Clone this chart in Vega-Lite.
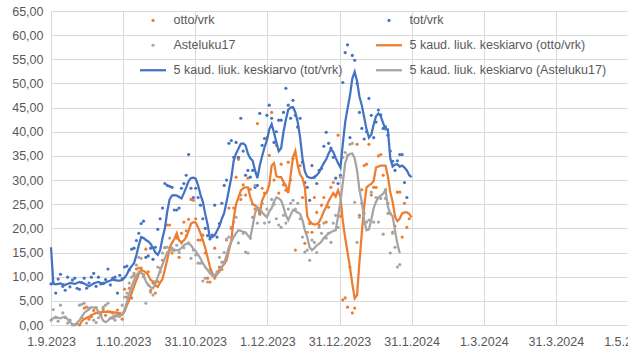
{
"$schema":"https://vega.github.io/schema/vega-lite/v6.json",
"width":577,"height":314,"autosize":"none",
"padding":{"left":51,"top":11,"right":0,"bottom":35},
"background":"white",
"config":{"view":{"stroke":null},"font":"Liberation Sans"},
"data":{"values":[
{"date":"2023-09-01","tot":8.5,"aste":1.0,"ma_tot":16.1,"ma_aste":1.0},
{"date":"2023-09-02","tot":8.6,"aste":3.2,"ma_tot":8.5,"ma_aste":1.4},
{"date":"2023-09-03","tot":6.6,"aste":1.5,"ma_tot":8.4,"ma_aste":1.7},
{"date":"2023-09-04","tot":9.5,"aste":0.8,"ma_tot":8.5,"ma_aste":1.5},
{"date":"2023-09-05","tot":10.5,"aste":4.1,"ma_tot":8.6,"ma_aste":1.4},
{"date":"2023-09-06","tot":8.0,"aste":2.5,"ma_tot":8.4,"ma_aste":1.6},
{"date":"2023-09-07","tot":7.2,"aste":1.5,"ma_tot":8.3,"ma_aste":1.7},
{"date":"2023-09-08","tot":9.9,"aste":0.4,"ma_tot":8.5,"ma_aste":1.2},
{"date":"2023-09-09","tot":7.9,"aste":1.0,"ma_tot":8.7,"ma_aste":0.6},
{"date":"2023-09-10","tot":9.3,"aste":0.0,"ma_tot":8.6,"ma_aste":0.2},
{"date":"2023-09-11","tot":9.7,"aste":0.0,"ma_tot":8.5,"ma_aste":0.0},
{"date":"2023-09-12","tot":7.6,"aste":0.2,"ma_tot":8.7,"ma_aste":0.5},
{"date":"2023-09-13","tot":7.4,"otto":0.0,"aste":4.1,"ma_tot":8.9,"ma_otto":0.0,"ma_aste":1.0},
{"date":"2023-09-14","tot":8.8,"otto":1.5,"aste":4.3,"ma_tot":8.7,"ma_otto":0.8,"ma_aste":1.7},
{"date":"2023-09-15","tot":9.7,"otto":3.5,"aste":4.5,"ma_tot":8.6,"ma_otto":1.2,"ma_aste":2.5},
{"date":"2023-09-16","tot":7.6,"otto":3.7,"aste":0.4,"ma_tot":8.3,"ma_otto":1.5,"ma_aste":2.9},
{"date":"2023-09-17","tot":8.7,"otto":1.2,"aste":3.5,"ma_tot":8.0,"ma_otto":1.7,"ma_aste":3.2},
{"date":"2023-09-18","tot":9.9,"otto":1.7,"aste":2.0,"ma_tot":8.3,"ma_otto":2.0,"ma_aste":3.7},
{"date":"2023-09-19","tot":10.7,"otto":3.0,"aste":1.0,"ma_tot":8.6,"ma_otto":2.3,"ma_aste":3.6},
{"date":"2023-09-20","tot":8.0,"otto":3.6,"aste":0.5,"ma_tot":8.8,"ma_otto":2.5,"ma_aste":3.5},
{"date":"2023-09-21","tot":9.9,"otto":2.5,"aste":1.5,"ma_tot":8.9,"ma_otto":2.6,"ma_aste":2.8},
{"date":"2023-09-22","tot":8.5,"otto":2.0,"aste":2.5,"ma_tot":8.7,"ma_otto":2.6,"ma_aste":1.9},
{"date":"2023-09-23","tot":8.7,"otto":3.2,"aste":3.7,"ma_tot":8.5,"ma_otto":2.7,"ma_aste":0.9},
{"date":"2023-09-24","tot":9.4,"otto":2.0,"aste":4.1,"ma_tot":8.8,"ma_otto":2.7,"ma_aste":0.6},
{"date":"2023-09-25","tot":11.6,"otto":2.8,"aste":4.5,"ma_tot":9.0,"ma_otto":2.7,"ma_aste":0.9},
{"date":"2023-09-26","tot":8.3,"otto":2.7,"aste":1.4,"ma_tot":9.2,"ma_otto":2.7,"ma_aste":1.4},
{"date":"2023-09-27","tot":9.7,"otto":2.5,"aste":1.4,"ma_tot":9.4,"ma_otto":2.6,"ma_aste":1.7},
{"date":"2023-09-28","tot":9.9,"otto":1.8,"aste":1.0,"ma_tot":9.3,"ma_otto":2.6,"ma_aste":2.0},
{"date":"2023-09-29","tot":6.6,"otto":3.1,"aste":2.2,"ma_tot":9.2,"ma_otto":2.5,"ma_aste":1.8},
{"date":"2023-09-30","tot":10.3,"otto":2.4,"aste":2.0,"ma_tot":9.2,"ma_otto":2.3,"ma_aste":1.7},
{"date":"2023-10-01","tot":9.6,"otto":1.2,"aste":4.1,"ma_tot":9.3,"ma_otto":2.1,"ma_aste":2.3},
{"date":"2023-10-02","tot":12.0,"otto":7.4,"aste":5.8,"ma_tot":9.8,"ma_otto":2.8,"ma_aste":3.1},
{"date":"2023-10-03","tot":12.2,"otto":5.8,"aste":6.6,"ma_tot":10.5,"ma_otto":4.1,"ma_aste":4.8},
{"date":"2023-10-04","tot":11.4,"otto":7.6,"aste":8.7,"ma_tot":11.5,"ma_otto":5.2,"ma_aste":6.6},
{"date":"2023-10-05","tot":15.7,"otto":5.6,"aste":9.9,"ma_tot":12.2,"ma_otto":6.6,"ma_aste":8.0},
{"date":"2023-10-06","tot":15.9,"otto":10.3,"aste":10.7,"ma_tot":12.8,"ma_otto":8.0,"ma_aste":9.3},
{"date":"2023-10-07","tot":17.5,"otto":11.6,"aste":12.4,"ma_tot":14.5,"ma_otto":9.3,"ma_aste":10.3},
{"date":"2023-10-08","tot":19.0,"otto":11.8,"aste":14.0,"ma_tot":16.5,"ma_otto":10.6,"ma_aste":11.0},
{"date":"2023-10-09","tot":21.0,"otto":11.8,"aste":13.8,"ma_tot":18.2,"ma_otto":11.4,"ma_aste":10.8},
{"date":"2023-10-10","tot":21.5,"otto":10.5,"aste":10.0,"ma_tot":18.0,"ma_otto":11.2,"ma_aste":10.3},
{"date":"2023-10-11","tot":14.0,"otto":15.7,"aste":4.5,"ma_tot":17.6,"ma_otto":10.9,"ma_aste":9.0},
{"date":"2023-10-12","tot":14.3,"otto":11.0,"aste":8.3,"ma_tot":17.3,"ma_otto":10.3,"ma_aste":8.3},
{"date":"2023-10-13","tot":15.9,"otto":7.2,"aste":6.8,"ma_tot":16.8,"ma_otto":9.3,"ma_aste":7.8},
{"date":"2023-10-14","tot":13.6,"otto":8.7,"aste":6.2,"ma_tot":16.0,"ma_otto":9.0,"ma_aste":7.6},
{"date":"2023-10-15","tot":16.1,"otto":6.6,"aste":9.0,"ma_tot":15.0,"ma_otto":8.2,"ma_aste":8.5},
{"date":"2023-10-16","tot":19.8,"otto":9.0,"aste":12.0,"ma_tot":14.5,"ma_otto":7.9,"ma_aste":9.9},
{"date":"2023-10-17","tot":22.0,"otto":11.0,"aste":11.8,"ma_tot":15.5,"ma_otto":8.8,"ma_aste":11.2},
{"date":"2023-10-18","tot":24.2,"otto":13.4,"aste":14.9,"ma_tot":18.0,"ma_otto":9.5,"ma_aste":12.5},
{"date":"2023-10-19","tot":29.3,"otto":16.0,"aste":16.1,"ma_tot":20.0,"ma_otto":11.5,"ma_aste":13.8},
{"date":"2023-10-20","tot":28.9,"otto":20.7,"aste":16.1,"ma_tot":23.5,"ma_otto":13.5,"ma_aste":15.1},
{"date":"2023-10-21","tot":28.7,"otto":20.7,"aste":18.0,"ma_tot":26.0,"ma_otto":16.0,"ma_aste":15.4},
{"date":"2023-10-22","tot":28.5,"otto":14.9,"aste":15.9,"ma_tot":26.8,"ma_otto":17.0,"ma_aste":15.5},
{"date":"2023-10-23","tot":23.8,"otto":15.5,"aste":15.5,"ma_tot":26.9,"ma_otto":17.8,"ma_aste":15.5},
{"date":"2023-10-24","tot":23.8,"otto":18.0,"aste":16.5,"ma_tot":26.8,"ma_otto":19.0,"ma_aste":15.5},
{"date":"2023-10-25","tot":24.2,"otto":14.0,"aste":15.0,"ma_tot":26.5,"ma_otto":17.5,"ma_aste":15.5},
{"date":"2023-10-26","tot":28.3,"otto":19.0,"aste":17.0,"ma_tot":26.2,"ma_otto":17.1,"ma_aste":16.0},
{"date":"2023-10-27","tot":29.3,"otto":21.3,"aste":16.0,"ma_tot":27.3,"ma_otto":17.5,"ma_aste":16.5},
{"date":"2023-10-28","tot":31.0,"otto":19.5,"aste":18.5,"ma_tot":28.5,"ma_otto":18.2,"ma_aste":16.8},
{"date":"2023-10-29","tot":35.3,"otto":21.9,"aste":17.0,"ma_tot":29.8,"ma_otto":19.5,"ma_aste":16.9},
{"date":"2023-10-30","tot":28.3,"otto":26.0,"aste":13.8,"ma_tot":30.4,"ma_otto":21.0,"ma_aste":16.5},
{"date":"2023-10-31","tot":26.4,"otto":25.8,"aste":15.5,"ma_tot":30.5,"ma_otto":21.3,"ma_aste":15.8},
{"date":"2023-11-01","tot":28.3,"otto":22.0,"aste":14.5,"ma_tot":30.3,"ma_otto":21.2,"ma_aste":15.3},
{"date":"2023-11-02","tot":26.4,"otto":17.6,"aste":12.8,"ma_tot":28.9,"ma_otto":20.2,"ma_aste":14.5},
{"date":"2023-11-03","tot":24.8,"otto":17.6,"aste":12.8,"ma_tot":27.0,"ma_otto":19.0,"ma_aste":13.8},
{"date":"2023-11-04","tot":22.0,"otto":18.6,"aste":9.1,"ma_tot":25.5,"ma_otto":17.6,"ma_aste":12.8},
{"date":"2023-11-05","tot":20.0,"otto":14.9,"aste":9.7,"ma_tot":23.0,"ma_otto":16.0,"ma_aste":12.0},
{"date":"2023-11-06","tot":18.5,"otto":9.7,"aste":8.9,"ma_tot":20.8,"ma_otto":14.0,"ma_aste":11.4},
{"date":"2023-11-07","tot":17.8,"otto":8.9,"aste":11.4,"ma_tot":18.0,"ma_otto":12.0,"ma_aste":10.7},
{"date":"2023-11-08","tot":18.6,"otto":10.3,"aste":10.5,"ma_tot":18.2,"ma_otto":10.7,"ma_aste":10.4},
{"date":"2023-11-09","tot":24.8,"otto":15.9,"aste":9.7,"ma_tot":18.6,"ma_otto":9.9,"ma_aste":10.3},
{"date":"2023-11-10","tot":18.2,"otto":10.7,"aste":11.0,"ma_tot":19.5,"ma_otto":10.5,"ma_aste":10.7},
{"date":"2023-11-11","tot":21.0,"otto":12.0,"aste":14.0,"ma_tot":20.5,"ma_otto":11.5,"ma_aste":11.0},
{"date":"2023-11-12","tot":25.2,"otto":11.5,"aste":13.0,"ma_tot":22.0,"ma_otto":12.0,"ma_aste":12.0},
{"date":"2023-11-13","tot":28.9,"otto":13.0,"aste":15.0,"ma_tot":23.2,"ma_otto":12.6,"ma_aste":12.8},
{"date":"2023-11-14","tot":30.0,"otto":17.6,"aste":17.8,"ma_tot":25.5,"ma_otto":13.4,"ma_aste":14.5},
{"date":"2023-11-15","tot":37.6,"otto":24.2,"aste":18.2,"ma_tot":28.0,"ma_otto":15.5,"ma_aste":16.1},
{"date":"2023-11-16","tot":38.2,"otto":20.0,"aste":20.2,"ma_tot":30.5,"ma_otto":17.5,"ma_aste":17.2},
{"date":"2023-11-17","tot":34.7,"otto":24.2,"aste":21.3,"ma_tot":34.0,"ma_otto":22.0,"ma_aste":18.2},
{"date":"2023-11-18","tot":37.8,"otto":30.6,"aste":22.3,"ma_tot":35.5,"ma_otto":25.0,"ma_aste":19.0},
{"date":"2023-11-19","tot":34.7,"otto":34.3,"aste":17.0,"ma_tot":36.5,"ma_otto":26.4,"ma_aste":19.6},
{"date":"2023-11-20","tot":42.8,"otto":26.0,"aste":26.9,"ma_tot":37.5,"ma_otto":27.8,"ma_aste":19.5},
{"date":"2023-11-21","tot":36.0,"otto":29.0,"aste":19.0,"ma_tot":37.6,"ma_otto":28.3,"ma_aste":19.3},
{"date":"2023-11-22","tot":31.0,"otto":26.9,"aste":15.1,"ma_tot":37.2,"ma_otto":28.5,"ma_aste":19.2},
{"date":"2023-11-23","tot":32.0,"otto":30.4,"aste":14.9,"ma_tot":35.5,"ma_otto":28.5,"ma_aste":18.5},
{"date":"2023-11-24","tot":30.6,"otto":28.1,"aste":18.0,"ma_tot":34.5,"ma_otto":26.5,"ma_aste":18.0},
{"date":"2023-11-25","tot":32.0,"otto":22.3,"aste":25.0,"ma_tot":34.0,"ma_otto":25.0,"ma_aste":20.5},
{"date":"2023-11-26","tot":28.5,"otto":24.0,"aste":28.9,"ma_tot":32.0,"ma_otto":24.8,"ma_aste":23.1},
{"date":"2023-11-27","tot":28.9,"otto":41.7,"aste":21.1,"ma_tot":30.4,"ma_otto":24.2,"ma_aste":24.4},
{"date":"2023-11-28","tot":43.8,"otto":23.0,"aste":23.0,"ma_tot":33.0,"ma_otto":23.2,"ma_aste":24.0},
{"date":"2023-11-29","tot":37.2,"otto":28.3,"aste":25.2,"ma_tot":35.0,"ma_otto":25.8,"ma_aste":23.3},
{"date":"2023-11-30","tot":38.6,"otto":27.3,"aste":21.1,"ma_tot":36.8,"ma_otto":26.9,"ma_aste":22.8},
{"date":"2023-12-01","tot":43.4,"otto":38.8,"aste":24.0,"ma_tot":38.2,"ma_otto":27.5,"ma_aste":22.3},
{"date":"2023-12-02","tot":45.5,"otto":35.1,"aste":21.3,"ma_tot":40.5,"ma_otto":29.0,"ma_aste":23.5},
{"date":"2023-12-03","tot":42.8,"otto":44.0,"aste":26.0,"ma_tot":41.6,"ma_otto":33.0,"ma_aste":24.2},
{"date":"2023-12-04","tot":37.8,"otto":30.0,"aste":25.0,"ma_tot":39.8,"ma_otto":33.5,"ma_aste":25.5},
{"date":"2023-12-05","tot":40.0,"otto":37.2,"aste":22.0,"ma_tot":37.8,"ma_otto":30.8,"ma_aste":26.4},
{"date":"2023-12-06","tot":42.4,"otto":27.3,"aste":20.7,"ma_tot":36.0,"ma_otto":30.6,"ma_aste":26.2},
{"date":"2023-12-07","tot":42.4,"otto":33.3,"aste":20.2,"ma_tot":36.6,"ma_otto":30.6,"ma_aste":25.8},
{"date":"2023-12-08","tot":44.0,"otto":29.0,"aste":22.7,"ma_tot":40.0,"ma_otto":29.6,"ma_aste":24.4},
{"date":"2023-12-09","tot":49.0,"otto":27.9,"aste":21.1,"ma_tot":42.5,"ma_otto":28.9,"ma_aste":22.7},
{"date":"2023-12-10","tot":45.5,"otto":33.7,"aste":24.0,"ma_tot":44.6,"ma_otto":27.3,"ma_aste":21.7},
{"date":"2023-12-11","tot":42.8,"otto":30.0,"aste":25.2,"ma_tot":45.0,"ma_otto":31.0,"ma_aste":22.8},
{"date":"2023-12-12","tot":46.5,"otto":34.5,"aste":25.8,"ma_tot":45.1,"ma_otto":34.7,"ma_aste":23.8},
{"date":"2023-12-13","tot":43.4,"otto":15.5,"aste":24.0,"ma_tot":44.0,"ma_otto":36.0,"ma_aste":23.6},
{"date":"2023-12-14","tot":41.0,"otto":41.0,"aste":25.2,"ma_tot":42.0,"ma_otto":33.0,"ma_aste":23.3},
{"date":"2023-12-15","tot":42.8,"otto":33.0,"aste":22.0,"ma_tot":38.8,"ma_otto":31.2,"ma_aste":23.0},
{"date":"2023-12-16","tot":33.7,"otto":26.4,"aste":18.2,"ma_tot":34.5,"ma_otto":30.4,"ma_aste":21.7},
{"date":"2023-12-17","tot":29.5,"otto":16.9,"aste":15.1,"ma_tot":31.8,"ma_otto":28.5,"ma_aste":19.6},
{"date":"2023-12-18","tot":28.5,"otto":19.2,"aste":15.5,"ma_tot":30.7,"ma_otto":22.5,"ma_aste":18.2},
{"date":"2023-12-19","tot":25.8,"otto":21.0,"aste":13.4,"ma_tot":30.5,"ma_otto":21.5,"ma_aste":16.1},
{"date":"2023-12-20","tot":33.0,"otto":19.2,"aste":17.6,"ma_tot":30.4,"ma_otto":21.0,"ma_aste":15.5},
{"date":"2023-12-21","tot":30.6,"otto":26.4,"aste":17.1,"ma_tot":30.6,"ma_otto":20.8,"ma_aste":15.9},
{"date":"2023-12-22","tot":29.3,"otto":23.3,"aste":15.0,"ma_tot":31.0,"ma_otto":20.9,"ma_aste":16.5},
{"date":"2023-12-23","tot":32.0,"otto":20.7,"aste":20.2,"ma_tot":31.6,"ma_otto":21.3,"ma_aste":16.8},
{"date":"2023-12-24","tot":32.4,"otto":24.8,"aste":19.0,"ma_tot":32.6,"ma_otto":22.3,"ma_aste":17.3},
{"date":"2023-12-25","tot":37.0,"otto":26.4,"aste":21.1,"ma_tot":33.5,"ma_otto":23.5,"ma_aste":18.0},
{"date":"2023-12-26","tot":39.9,"otto":21.3,"aste":18.0,"ma_tot":34.3,"ma_otto":24.5,"ma_aste":18.5},
{"date":"2023-12-27","tot":37.6,"otto":24.4,"aste":19.0,"ma_tot":35.5,"ma_otto":25.6,"ma_aste":19.0},
{"date":"2023-12-28","tot":36.6,"otto":28.5,"aste":17.1,"ma_tot":36.4,"ma_otto":26.5,"ma_aste":19.2},
{"date":"2023-12-29","tot":34.7,"otto":29.5,"aste":21.1,"ma_tot":35.8,"ma_otto":27.3,"ma_aste":19.5},
{"date":"2023-12-30","tot":30.4,"otto":26.9,"aste":22.7,"ma_tot":34.6,"ma_otto":26.6,"ma_aste":19.6},
{"date":"2023-12-31","tot":29.3,"otto":39.3,"aste":20.2,"ma_tot":33.5,"ma_otto":27.9,"ma_aste":22.5},
{"date":"2024-01-01","tot":31.0,"otto":22.5,"aste":30.6,"ma_tot":32.6,"ma_otto":26.5,"ma_aste":25.5},
{"date":"2024-01-02","tot":50.2,"otto":5.2,"aste":34.7,"ma_tot":37.5,"ma_otto":21.5,"ma_aste":29.5},
{"date":"2024-01-03","tot":56.4,"otto":5.6,"aste":35.7,"ma_tot":42.0,"ma_otto":18.0,"ma_aste":33.5},
{"date":"2024-01-04","tot":58.0,"otto":3.7,"aste":35.1,"ma_tot":44.8,"ma_otto":15.0,"ma_aste":35.0},
{"date":"2024-01-05","tot":38.8,"otto":12.0,"aste":37.4,"ma_tot":47.5,"ma_otto":12.0,"ma_aste":35.4},
{"date":"2024-01-06","tot":55.8,"otto":2.5,"aste":37.6,"ma_tot":51.0,"ma_otto":8.5,"ma_aste":35.5},
{"date":"2024-01-07","tot":54.8,"otto":3.5,"aste":25.4,"ma_tot":52.4,"ma_otto":5.5,"ma_aste":34.5},
{"date":"2024-01-08","tot":50.0,"otto":37.4,"aste":17.1,"ma_tot":50.5,"ma_otto":6.2,"ma_aste":32.0},
{"date":"2024-01-09","tot":44.0,"otto":22.7,"aste":22.3,"ma_tot":47.3,"ma_otto":13.0,"ma_aste":28.0},
{"date":"2024-01-10","tot":40.7,"otto":28.0,"aste":25.2,"ma_tot":45.5,"ma_otto":19.0,"ma_aste":25.5},
{"date":"2024-01-11","tot":38.5,"otto":33.0,"aste":23.1,"ma_tot":43.0,"ma_otto":24.5,"ma_aste":21.7},
{"date":"2024-01-12","tot":40.0,"otto":33.3,"aste":21.3,"ma_tot":40.5,"ma_otto":28.5,"ma_aste":19.6},
{"date":"2024-01-13","tot":46.9,"otto":37.4,"aste":21.7,"ma_tot":38.8,"ma_otto":28.9,"ma_aste":19.8},
{"date":"2024-01-14","tot":43.4,"otto":26.9,"aste":27.5,"ma_tot":39.4,"ma_otto":29.2,"ma_aste":21.8},
{"date":"2024-01-15","tot":38.8,"otto":28.5,"aste":21.3,"ma_tot":41.5,"ma_otto":29.8,"ma_aste":24.2},
{"date":"2024-01-16","tot":42.0,"otto":28.5,"aste":26.4,"ma_tot":43.2,"ma_otto":32.6,"ma_aste":25.5},
{"date":"2024-01-17","tot":44.5,"otto":35.0,"aste":21.3,"ma_tot":43.8,"ma_otto":32.8,"ma_aste":26.4},
{"date":"2024-01-18","tot":43.5,"otto":35.3,"aste":26.2,"ma_tot":43.2,"ma_otto":33.0,"ma_aste":26.8},
{"date":"2024-01-19","tot":40.7,"otto":31.0,"aste":18.8,"ma_tot":41.8,"ma_otto":33.0,"ma_aste":27.2},
{"date":"2024-01-20","tot":41.0,"otto":28.0,"aste":26.2,"ma_tot":40.5,"ma_otto":33.0,"ma_aste":27.9},
{"date":"2024-01-21","tot":39.3,"otto":25.2,"aste":23.1,"ma_tot":40.5,"ma_otto":30.8,"ma_aste":24.5},
{"date":"2024-01-22","tot":36.0,"otto":23.1,"aste":14.9,"ma_tot":34.5,"ma_otto":27.5,"ma_aste":23.0},
{"date":"2024-01-23","tot":33.9,"otto":19.2,"aste":19.0,"ma_tot":32.8,"ma_otto":25.5,"ma_aste":22.5},
{"date":"2024-01-24","tot":32.0,"otto":20.5,"aste":16.1,"ma_tot":33.2,"ma_otto":22.5,"ma_aste":19.6},
{"date":"2024-01-25","tot":34.0,"otto":27.5,"aste":12.0,"ma_tot":33.3,"ma_otto":21.5,"ma_aste":16.8},
{"date":"2024-01-26","tot":35.3,"otto":27.5,"aste":12.5,"ma_tot":32.8,"ma_otto":22.0,"ma_aste":14.9},
{"date":"2024-01-27","tot":35.3,"otto":18.2,"ma_tot":33.0,"ma_otto":23.1},
{"date":"2024-01-28","tot":29.5,"otto":25.2,"ma_tot":32.6,"ma_otto":23.3},
{"date":"2024-01-29","tot":26.4,"otto":20.2,"ma_tot":32.0,"ma_otto":23.3},
{"date":"2024-01-30","otto":22.0,"ma_tot":31.0,"ma_otto":23.0},
{"date":"2024-01-31","ma_tot":30.6,"ma_otto":22.3}
]},
"encoding":{
"x":{"field":"date","type":"temporal",
 "scale":{"type":"utc","domain":[1693526400000,1714538880000]},
 "axis":{"values":[1693526400000,1696152960000,1698779520000,1701406080000,1704032640000,1706659200000,1709285760000,1711912320000,1714538880000],
  "labelExpr":"utcFormat(datum.value, '%-d.%-m.%Y')","title":null,"grid":true,"gridColor":"#D9D9D9","ticks":false,
  "domainColor":"#D9D9D9","labelPadding":10,"labelFontSize":12.5,"labelColor":"#595959","labelFlush":false,"labelOverlap":false,"labelFont":"Liberation Sans"}},
"y":{"field":"value","type":"quantitative",
 "scale":{"domain":[0,65],"nice":false},
 "axis":{"values":[0,5,10,15,20,25,30,35,40,45,50,55,60,65],"labelExpr":"replace(format(datum.value, '.2f'), '.', ',')",
  "title":null,"grid":true,"gridColor":"#D9D9D9","ticks":false,"domain":false,"labelPadding":8,"labelFontSize":12.5,"labelColor":"#595959","labelFont":"Liberation Sans"}},
"color":{"field":"series","type":"nominal",
 "scale":{"domain":["otto","tot","aste","ma_otto","ma_tot","ma_aste"],"range":["#ED7D31","#4472C4","#A5A5A5","#ED7D31","#4472C4","#A5A5A5"]},
 "legend":{"orient":"none","direction":"horizontal","legendX":89,"legendY":3,"columns":2,"columnPadding":28,"rowPadding":12,"padding":0,
  "title":null,"symbolType":"stroke","symbolSize":676,"symbolStrokeWidth":2.25,"labelOffset":21,
  "labelFontSize":12.5,"labelColor":"#595959","labelFont":"Liberation Sans","labelLimit":400,
  "labelExpr":"datum.label == 'otto' ? 'otto/vrk' : datum.label == 'tot' ? 'tot/vrk' : datum.label == 'aste' ? 'Asteluku17' : datum.label == 'ma_otto' ? '5 kaud. liuk. keskiarvo (otto/vrk)' : datum.label == 'ma_tot' ? '5 kaud. liuk. keskiarvo (tot/vrk)' : '5 kaud. liuk. keskiarvo (Asteluku17)'",
  "encode":{"symbols":{"update":{
   "x":{"value":13},
   "shape":{"signal":"indexof(['otto','tot','aste'], datum.value) >= 0 ? 'circle' : 'stroke'"},
   "size":{"signal":"indexof(['otto','tot','aste'], datum.value) >= 0 ? 10 : 676"},
   "strokeWidth":{"signal":"indexof(['otto','tot','aste'], datum.value) >= 0 ? 0 : 2.25"},
   "stroke":{"scale":"color","field":"value"},
   "fill":{"scale":"color","field":"value"},
   "opacity":{"value":1}
  }}}}}
},
"layer":[
{"transform":[{"fold":["otto","tot","aste"],"as":["series","value"]}],
 "mark":{"type":"circle","size":10,"opacity":1}},
{"transform":[{"fold":["ma_otto","ma_tot","ma_aste"],"as":["series","value"]}],
 "mark":{"type":"line","strokeWidth":2.25}}
]
}
